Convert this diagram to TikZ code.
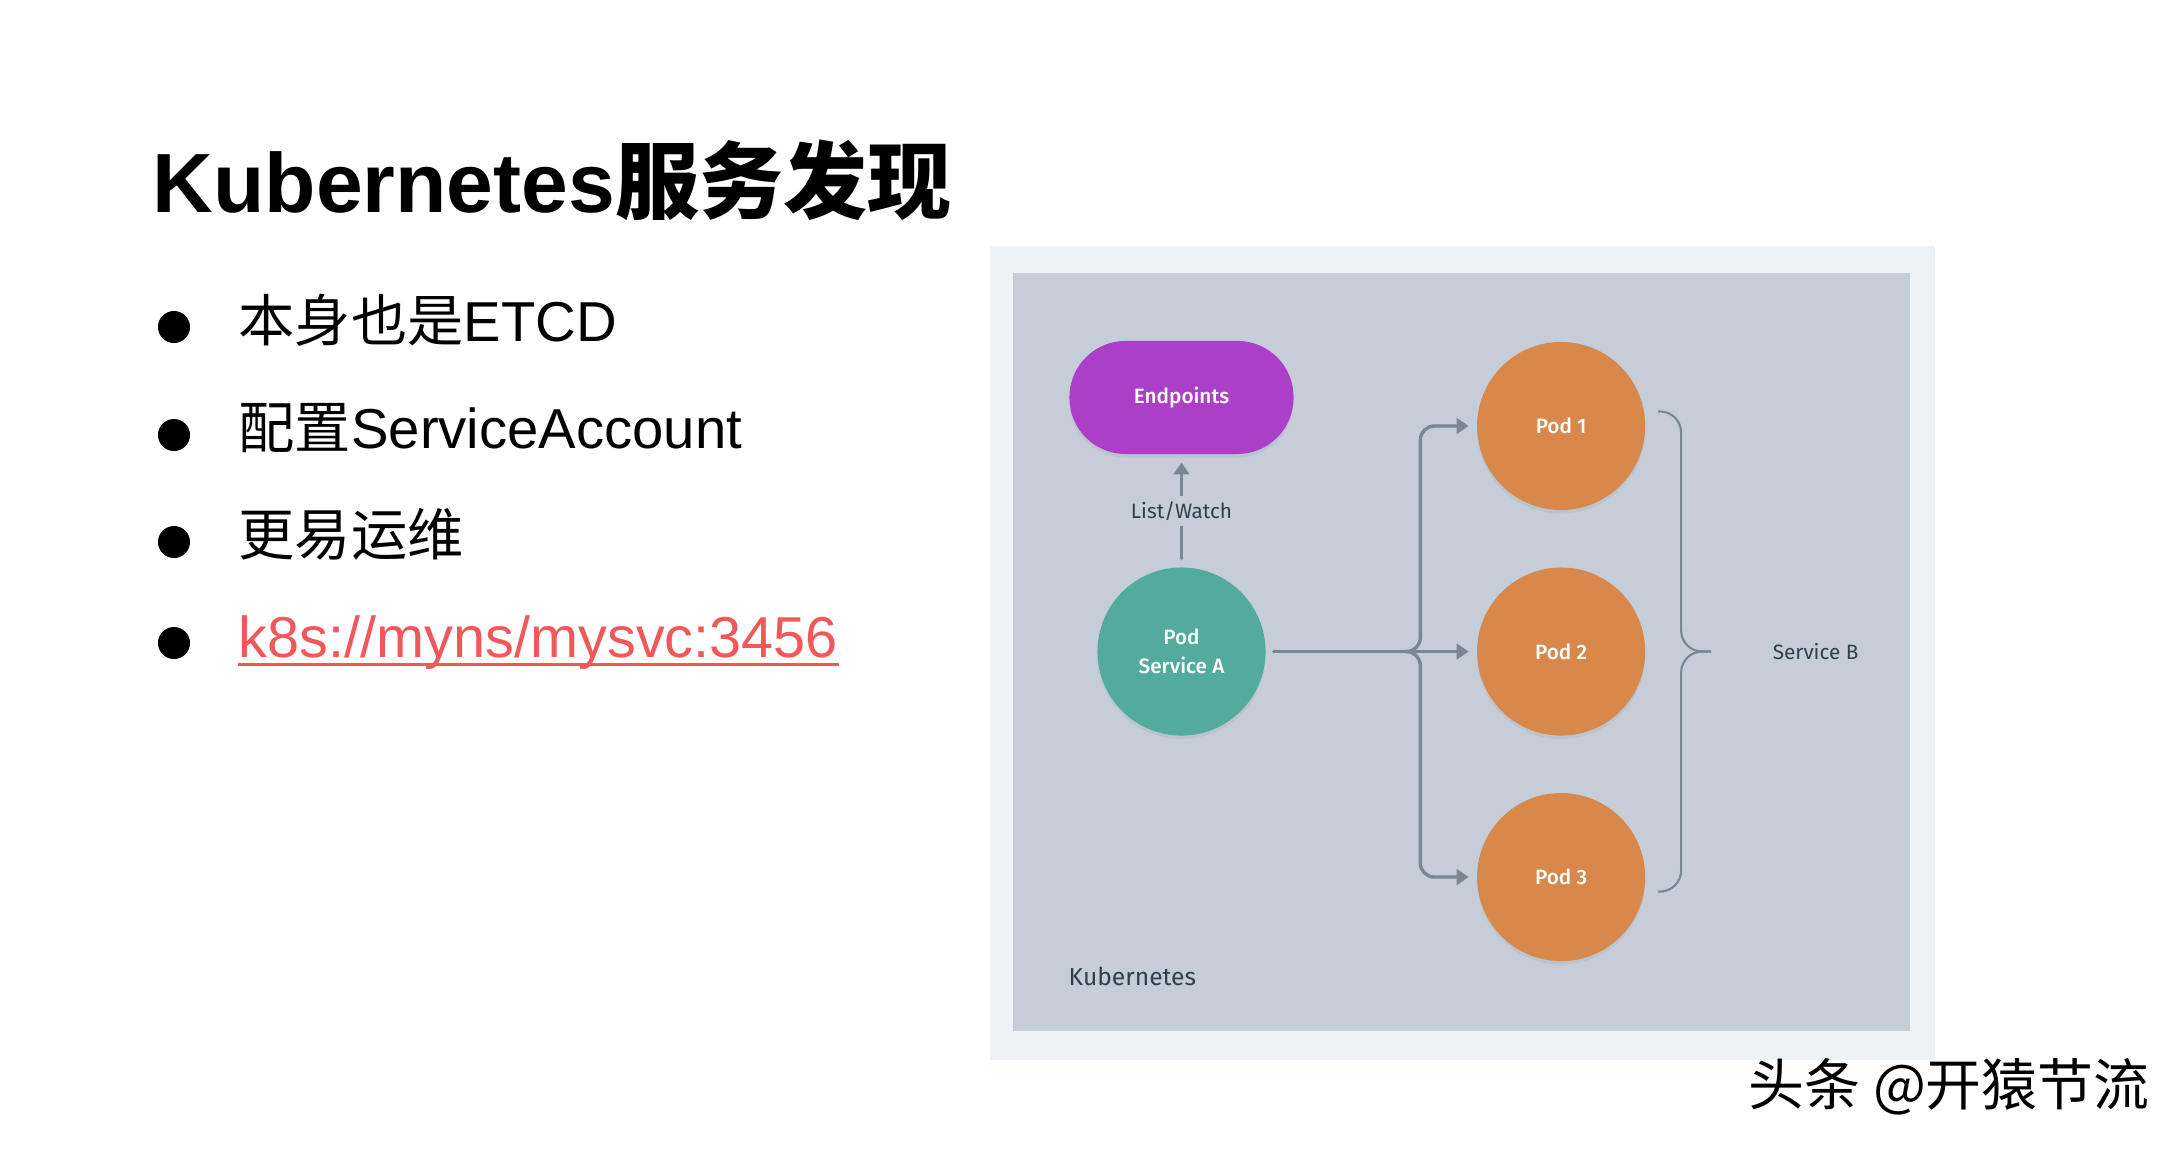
\documentclass[tikz,border=0pt]{standalone}
\usepackage{fontspec}
\setmainfont{Liberation Sans}
\newfontfamily\cjk{Noto Sans CJK SC}
\newfontfamily\dinfont{Fira Sans}
\newfontfamily\dinmed{Fira Sans Medium}
\usepackage{tikz}
\usetikzlibrary{arrows.meta,positioning,calc,shadows}

\definecolor{outerbg}{HTML}{EEF2F6}
\definecolor{panelbg}{HTML}{C5CDD8}
\definecolor{epcol}{HTML}{AC3FC8}
\definecolor{svcacol}{HTML}{52AB9C}
\definecolor{podcol}{HTML}{D8884A}
\definecolor{linecol}{HTML}{7B8692}
\definecolor{txtcol}{HTML}{323F4B}
\definecolor{linkcol}{HTML}{F2575A}

\begin{document}
\begin{tikzpicture}[
            x=0.01cm, y=-0.01cm,
            softshadow/.style={drop shadow={opacity=0.12,shadow xshift=0pt,shadow yshift=-1pt}},
            pod/.style={circle,fill=podcol,text=white,minimum size=1.68cm,inner sep=0pt,
                        align=center,font=\dinmed\fontsize{5.9pt}{8.1pt}\selectfont,softshadow},
            svca/.style={pod,fill=svcacol},
            ep/.style={rectangle,rounded corners=0.56cm,fill=epcol,text=white,
                       minimum width=2.24cm,minimum height=1.13cm,
                       font=\dinmed\fontsize{5.9pt}{8.1pt}\selectfont,softshadow},
            lab/.style={text=txtcol,font=\dinfont\fontsize{5.9pt}{8.1pt}\selectfont},
            klab/.style={lab,anchor=base west,inner sep=0pt,font=\dinfont\fontsize{7pt}{9pt}\selectfont},
            conn/.style={draw=linecol,line width=0.95pt,line cap=round,
                         -{Triangle[length=3.4pt,width=4.4pt]},shorten >=2.2pt},
            brace/.style={draw=linecol,line width=0.6pt,rounded corners=0.21cm},
            title/.style={anchor=base west,inner sep=0pt,font=\bfseries\fontsize{23.9pt}{28pt}\selectfont},
            item/.style={anchor=base west,inner sep=0pt,font=\fontsize{16pt}{19pt}\selectfont},
            bullet/.style={circle,fill=black,minimum size=0.32cm,inner sep=0pt},
            wmark/.style={anchor=west,inner sep=0pt,font=\cjk\fontsize{15.9pt}{18pt}\selectfont}
        ]
        \fill[white] (0,0) rectangle (2184,1150);
        \useasboundingbox (0,0) rectangle (2184,1150);
        % slide text
        \node[title] (title) at (152,212) {Kubernetes{\cjk 服务发现}};
        \node[bullet] (dot1) at (174,327) {};
        \node[bullet] (dot2) at (174,435) {};
        \node[bullet] (dot3) at (174,542) {};
        \node[bullet] (dot4) at (174,643) {};
        \node[item] (item1) at (238,341) {{\cjk 本身也是}ETCD};
        \node[item] (item2) at (238,448) {{\cjk 配置}ServiceAccount};
        \node[item] (item3) at (238,555) {\cjk 更易运维};
        \node[item,text=linkcol,font=\fontsize{16.4pt}{19pt}\selectfont] (item4) at (238,657) {k8s://myns/mysvc:3456};
        \draw[linkcol,line width=0.85pt] ([yshift=-2.1pt]item4.base west) -- ([yshift=-2.1pt]item4.base east);
        % panels
        \fill[outerbg] (990,246) rectangle (1935,1060);
        \fill[panelbg] (1013,273) rectangle (1910,1031);
        % nodes
        \node[svca] (podA) at (1181.5,651.5) {Pod\\Service A};
        \node[ep, above=1.12cm of podA] (endp) {Endpoints};
        \node[pod, right=2.1cm of podA] (pod2) {Pod 2};
        \node[pod, above=0.56cm of pod2] (pod1) {Pod 1};
        \node[pod, below=0.56cm of pod2] (pod3) {Pod 3};
        \node[klab] (k8s) at (1068,985) {Kubernetes};
        % list/watch
        \draw[conn,shorten <=2.3pt] (podA) -- node[lab,fill=panelbg,inner xsep=2pt,inner ysep=1.6pt]{List/Watch} (endp);
        % fan out to the pods
        \coordinate[right=1.54cm of podA.east] (fork);
        \draw[conn,shorten <=2.1pt] (podA) -- (pod2);
        \draw[conn,rounded corners=0.14cm] ([xshift=-0.15cm]fork) -| (fork |- pod1) -- (pod1);
        \draw[conn,rounded corners=0.14cm] ([xshift=-0.15cm]fork) -| (fork |- pod3) -- (pod3);
        % service B brace
        \coordinate (svctip) at ($(pod2.center)+(150,0)$);
        \coordinate (btop) at ($(pod1.center)+(97,-14.5)$);
        \coordinate (bbot) at ($(pod3.center)+(97,14.5)$);
        \draw[brace] (btop) -| ([xshift=-0.3cm]svctip) -- (svctip);
        \draw[brace] (bbot) -| ([xshift=-0.3cm]svctip) -- (svctip);
        \node[lab,inner sep=0pt,right=0.61cm of svctip] (svcb) {Service B};
        % watermark
        \node[wmark] (wm) at (1748,1087) {头条 @开猿节流};
\end{tikzpicture}
\end{document}
